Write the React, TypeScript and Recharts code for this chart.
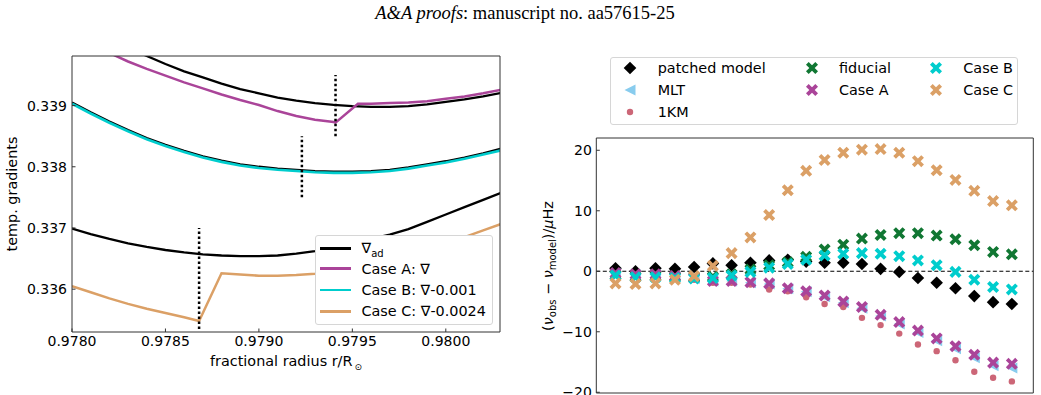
import React from 'react';
import {
  LineChart, Line, ScatterChart, Scatter, XAxis, YAxis, ReferenceLine, Legend, Label,
} from 'recharts';

// left panel: temperature gradients around the patching point
const radiusGrid = [
  0.978, 0.9781, 0.9782, 0.9783, 0.9784, 0.9785, 0.9786, 0.9787, 0.9788, 0.9789, 0.979, 0.9791,
  0.9792, 0.9793, 0.9794, 0.9795, 0.9796, 0.9797, 0.9798, 0.9799, 0.98, 0.9801, 0.9802, 0.9803,
];
const nablaAdA = [
  0.3404, 0.34025, 0.3401, 0.33995, 0.33981, 0.33968, 0.33956, 0.33946, 0.33936, 0.33927, 0.3392, 0.33913,
  0.33908, 0.33904, 0.33901, 0.33899, 0.33898, 0.33898, 0.33899, 0.33902, 0.33906, 0.3391, 0.33915, 0.33921,
];
const nablaAdB = [
  0.33905, 0.33889, 0.33874, 0.3386, 0.33847, 0.33836, 0.33826, 0.33817, 0.3381, 0.33804, 0.338, 0.33797,
  0.33795, 0.33793, 0.33792, 0.33792, 0.33793, 0.33795, 0.33799, 0.33804, 0.33809, 0.33815, 0.33822, 0.3383,
];
const nablaAdC = [
  0.33699, 0.3369, 0.33682, 0.33675, 0.33669, 0.33664, 0.3366, 0.33657, 0.33655, 0.33654, 0.33654, 0.33655,
  0.33658, 0.33662, 0.33667, 0.33674, 0.33682, 0.33689, 0.33698, 0.3371, 0.33722, 0.33734, 0.33746, 0.33758,
];
const caseBGrad = [
  0.33903, 0.33887, 0.33872, 0.33858, 0.33845, 0.33834, 0.33824, 0.33815, 0.33808, 0.33802, 0.33798, 0.33795,
  0.33793, 0.33791, 0.3379, 0.3379, 0.33791, 0.33793, 0.33797, 0.33802, 0.33807, 0.33813, 0.3382, 0.33827,
];
const caseARadius = [
  0.978, 0.9781, 0.9782, 0.9783, 0.9784, 0.9785, 0.9786, 0.9787, 0.9788, 0.9789, 0.979, 0.9791, 0.9792,
  0.9793, 0.9794, 0.97941, 0.97953, 0.9796, 0.9797, 0.9798, 0.9799, 0.98, 0.9801, 0.9802, 0.9803,
];
const caseAGrad = [
  0.34016, 0.34001, 0.33986, 0.33972, 0.3396, 0.33949, 0.33938, 0.33928, 0.33918, 0.33909, 0.33901, 0.33891,
  0.33883, 0.33877, 0.33873, 0.33872, 0.33903, 0.33903, 0.33904, 0.33905, 0.33907, 0.33911, 0.33915, 0.3392, 0.33926,
];
const caseCRadius = [
  0.978, 0.9781, 0.9782, 0.9783, 0.9784, 0.9785, 0.9786, 0.97868, 0.9788, 0.9789, 0.979, 0.9791,
  0.9792, 0.9793, 0.9794, 0.9795, 0.9796, 0.9797, 0.9798, 0.9799, 0.98, 0.9801, 0.9802, 0.9803,
];
const caseCGrad = [
  0.33605, 0.33595, 0.33585, 0.33576, 0.33568, 0.33561, 0.33554, 0.33548, 0.33626, 0.33624, 0.33622, 0.33622,
  0.33623, 0.33625, 0.33628, 0.33632, 0.33637, 0.33643, 0.33651, 0.33662, 0.33674, 0.33685, 0.33696, 0.33707,
];

// dotted markers at the patching radius of each case
const patchRadius = [0.97941, 0.97923, 0.97868];
const patchMarkTop = [0.3395, 0.3385, 0.337];
const patchMarkBottom = [0.3385, 0.3375, 0.33535];

const radiusTicks = [0.978, 0.9785, 0.979, 0.9795, 0.98];
const gradientTicks = [0.336, 0.337, 0.338, 0.339];

const gradientNames = ['∇', 'Case A: ∇', 'Case B: ∇-0.001', 'Case C: ∇-0.0024'];
const gradientSubs = ['ad', '', '', ''];
const gradientColors = ['#000000', '#AA4499', '#00CDCD', '#DBA066'];

// right panel: radial mode frequency differences
const modeFreq = [
  1118.8, 1263.2, 1407.5, 1548.3, 1686.6, 1822.2, 1957.4, 2093.5, 2228.8, 2363.3, 2496.2,
  2629.3, 2764.2, 2899.0, 3033.8, 3168.6, 3303.5, 3438.9, 3574.9, 3710.7, 3846.5, 3982.1,
];
const patchedDiff = [0.5, 0.0, 0.5, 0.4, 0.7, 1.3, 1.0, 1.4, 1.8, 1.9, 1.6, 1.4, 1.4, 1.2, 0.4, -0.1, -1.1, -1.9, -2.8, -4.1, -5.1, -5.4];
const mltDiff = [-0.4, -0.6, -0.6, -0.9, -1.2, -1.6, -1.6, -1.9, -2.1, -2.9, -3.4, -4.2, -5.2, -6.1, -7.4, -8.7, -10.1, -11.5, -12.8, -14.3, -15.6, -16.0];
const kmDiff = [-0.6, -0.9, -0.8, -1.1, -1.4, -1.9, -1.9, -2.2, -3.0, -3.3, -4.3, -5.4, -5.9, -7.7, -8.9, -10.3, -12.1, -13.2, -14.7, -16.6, -17.6, -18.2];
const fiducialDiff = [-0.6, -0.9, -0.8, -0.9, -1.0, -0.9, -0.5, 0.3, 1.0, 1.5, 2.4, 3.6, 4.4, 5.4, 6.0, 6.3, 6.3, 5.9, 5.3, 4.3, 3.2, 2.8];
const caseADiff = [-0.3, -0.5, -0.5, -0.8, -1.1, -1.6, -1.6, -1.8, -2.0, -2.8, -3.3, -4.0, -5.0, -5.9, -7.2, -8.4, -9.8, -11.1, -12.4, -13.8, -15.1, -15.3];
const caseBDiff = [-0.7, -1.0, -1.0, -1.1, -1.2, -1.1, -0.7, -0.1, 0.6, 1.2, 1.9, 2.6, 2.9, 3.0, 2.9, 2.5, 1.8, 1.0, -0.1, -1.4, -2.6, -3.0];
const caseCDiff = [-2.0, -2.1, -2.0, -1.4, -0.8, 0.9, 3.0, 5.6, 9.3, 13.4, 16.6, 18.4, 19.6, 20.1, 20.2, 19.6, 18.2, 16.7, 15.1, 13.3, 11.6, 10.9];

const residualNames = ['patched model', 'MLT', '1KM', 'fiducial', 'Case A', 'Case B', 'Case C'];
const residualColors = ['#000000', '#88CCEE', '#CC6677', '#117733', '#AA4499', '#00CDCD', '#DBA066'];
const residualMarkers = ['diamond', 'triLeft', 'dot', 'cross', 'cross', 'cross', 'cross'];
const residualValues = [patchedDiff, mltDiff, kmDiff, fiducialDiff, caseADiff, caseBDiff, caseCDiff];

const freqTicks = [1000, 1500, 2000, 2500, 3000, 3500, 4000];
const diffTicks = [-20, -10, 0, 10, 20];

const FONT = 'DejaVu Sans';
const AXIS = '#333';

const toLine = (r: number[], g: number[]) => r.map((v, i) => ({ r: v, g: g[i] }));
const toPoints = (f: number[], d: number[]) => f.map((v, i) => ({ f: v, d: d[i] }));

const crossPoints = (cx: number, cy: number, a = 1.9, l = 6.6) => {
  const pts = [[-a, l], [a, l], [a, a], [l, a], [l, -a], [a, -a], [a, -l], [-a, -l], [-a, -a], [-l, -a], [-l, a], [-a, a]];
  const s = Math.SQRT1_2;
  return pts.map(([x, y]) => `${cx + (x - y) * s},${cy + (x + y) * s}`).join(' ');
};

const MarkerShape = ({ kind, cx, cy, color }: { kind: string; cx: number; cy: number; color: string }) => {
  if (kind === 'diamond') {
    const r = 6.3;
    return <polygon points={`${cx},${cy - r} ${cx + r},${cy} ${cx},${cy + r} ${cx - r},${cy}`} fill={color} />;
  }
  if (kind === 'triLeft') {
    const r = 5.5;
    return <polygon points={`${cx - r},${cy} ${cx + r},${cy - r} ${cx + r},${cy + r}`} fill={color} />;
  }
  if (kind === 'dot') return <circle cx={cx} cy={cy} r={3.2} fill={color} />;
  return <polygon points={crossPoints(cx, cy)} fill={color} />;
};

const tickStyle = { fill: '#000', fontSize: 14, fontFamily: FONT };

const RadiusTitle = ({ viewBox }: any) => (
  <text x={viewBox.x + viewBox.width / 2} y={366} textAnchor="middle" fontSize={14.4} fontFamily={FONT} fill="#000">
    fractional radius r/R<tspan dx={2} dy={4} fontSize={9}>⊙</tspan>
  </text>
);

const GradientTitle = () => {
  const x = 16.5;
  const y = 194;
  return (
    <text x={x} y={y} transform={`rotate(-90 ${x} ${y})`} textAnchor="middle" fontSize={14.4} fontFamily={FONT} fill="#000">
      temp. gradients
    </text>
  );
};

const ResidualTitle = () => {
  const x = 553 - 520;
  const y = 266;
  return (
    <text x={x} y={y} transform={`rotate(-90 ${x} ${y})`} textAnchor="middle" fontSize={14.4} fontFamily={FONT} fill="#000">
      (<tspan fontStyle="italic">ν</tspan>
      <tspan fontSize={10} dy={3}>obs</tspan>
      <tspan dy={-3}>{' \u2212 '}</tspan>
      <tspan fontStyle="italic">ν</tspan>
      <tspan fontSize={10} dy={3}>model</tspan>
      <tspan dy={-3}>)/</tspan>
      <tspan fontStyle="italic">μ</tspan>Hz
    </text>
  );
};

const GradientLegend = () => (
  <div style={{ position: 'relative', width: 178, height: 90, background: '#fff', border: '1px solid #d6d6d6', borderRadius: 3, boxSizing: 'border-box', fontFamily: FONT, fontSize: 14.4, color: '#000' }}>
    {gradientNames.map((name, i) => (
      <div key={name} style={{ position: 'absolute', left: 0, top: [12.3, 32.7, 54, 75.3][i] - 9, height: 18, lineHeight: '18px', whiteSpace: 'nowrap' }}>
        <span style={{ position: 'absolute', left: 3.5, top: 7.8, width: 31, height: 2.6, background: gradientColors[i] }} />
        <span style={{ position: 'absolute', left: 45.5 }}>
          {name}
          {gradientSubs[i] && <span style={{ fontSize: 10, position: 'relative', top: 4 }}>{gradientSubs[i]}</span>}
        </span>
      </div>
    ))}
  </div>
);

const ResidualLegend = () => {
  const colOf = [0, 0, 0, 1, 1, 2, 2];
  const rowOf = [0, 1, 2, 0, 1, 0, 1];
  const markerX = [19, 200.7, 325];
  const textX = [46.7, 228, 352.3];
  const rowY = [10.3, 32.6, 54.3];
  return (
    <div style={{ position: 'relative', width: 408, height: 68, background: '#fff', border: '1px solid #d6d6d6', borderRadius: 3, boxSizing: 'border-box', fontFamily: FONT, fontSize: 14.4, color: '#000' }}>
      {residualNames.map((name, i) => (
        <div key={name}>
          <svg width={16} height={16} style={{ position: 'absolute', left: markerX[colOf[i]] - 8, top: rowY[rowOf[i]] - 8 }}>
            <MarkerShape kind={residualMarkers[i]} cx={8} cy={8} color={residualColors[i]} />
          </svg>
          <span style={{ position: 'absolute', left: textX[colOf[i]], top: rowY[rowOf[i]] - 9, lineHeight: '18px', whiteSpace: 'nowrap' }}>{name}</span>
        </div>
      ))}
    </div>
  );
};

const GradientPanel = () => (
  <LineChart width={520} height={395} margin={{ top: 55, right: 19, bottom: 62, left: 71 }}>
    <XAxis type="number" dataKey="r" domain={[0.978, 0.98029]} allowDataOverflow ticks={radiusTicks} interval={0}
      tickFormatter={(v: number) => v.toFixed(4)} height={1} tickSize={-3.5} tickMargin={7.5} stroke={AXIS} tick={tickStyle}>
      <Label content={RadiusTitle} />
    </XAxis>
    <XAxis xAxisId="top" orientation="top" type="number" domain={[0.978, 0.98029]} allowDataOverflow ticks={radiusTicks} interval={0}
      height={1} tickSize={-3.5} stroke={AXIS} tick={false} />
    <YAxis type="number" domain={[0.3353, 0.33981]} allowDataOverflow ticks={gradientTicks} interval={0}
      tickFormatter={(v: number) => v.toFixed(3)} width={1} tickSize={-3.5} tickMargin={8.5} stroke={AXIS} tick={tickStyle}>
      <Label content={GradientTitle} />
    </YAxis>
    <YAxis yAxisId="right" orientation="right" type="number" domain={[0.3353, 0.33981]} allowDataOverflow ticks={gradientTicks} interval={0}
      width={1} tickSize={-3.5} stroke={AXIS} tick={false} />
    <Line data={toLine(radiusGrid, nablaAdA)} dataKey="g" stroke="#000" strokeWidth={2.3} dot={false} isAnimationActive={false} />
    <Line data={toLine(radiusGrid, nablaAdB)} dataKey="g" stroke="#000" strokeWidth={2.3} dot={false} isAnimationActive={false} />
    <Line data={toLine(radiusGrid, nablaAdC)} dataKey="g" stroke="#000" strokeWidth={2.3} dot={false} isAnimationActive={false} />
    <Line data={toLine(caseARadius, caseAGrad)} dataKey="g" stroke={gradientColors[1]} strokeWidth={2.5} dot={false} isAnimationActive={false} />
    <Line data={toLine(radiusGrid, caseBGrad)} dataKey="g" stroke={gradientColors[2]} strokeWidth={2.6} dot={false} isAnimationActive={false} />
    <Line data={toLine(caseCRadius, caseCGrad)} dataKey="g" stroke={gradientColors[3]} strokeWidth={2.5} dot={false} isAnimationActive={false} />
    {patchRadius.map((r, i) => (
      <ReferenceLine key={r} segment={[{ x: r, y: patchMarkBottom[i] }, { x: r, y: patchMarkTop[i] }]}
        stroke="#000" strokeWidth={2.5} strokeDasharray="2.5 2.5" ifOverflow="hidden" />
    ))}
    <Legend layout="horizontal" verticalAlign="middle" align="center" content={() => <GradientLegend />}
      wrapperStyle={{ position: 'absolute', left: 315, top: 235, width: 178, height: 90 }} />
  </LineChart>
);

const ResidualPanel = () => (
  <ScatterChart width={521} height={395} margin={{ top: 137, right: 6.7, bottom: 1, left: 75.3 }}>
    <XAxis type="number" dataKey="f" domain={[980, 4137]} allowDataOverflow ticks={freqTicks} interval={0}
      height={1} tickSize={-3.5} stroke={AXIS} tick={false} />
    <XAxis xAxisId="top" orientation="top" type="number" domain={[980, 4137]} allowDataOverflow ticks={freqTicks} interval={0}
      height={1} tickSize={-3.5} stroke={AXIS} tick={false} />
    <YAxis type="number" dataKey="d" domain={[-20.12, 22.03]} allowDataOverflow ticks={diffTicks} interval={0}
      tickFormatter={(v: number) => (v < 0 ? `\u2212${Math.abs(v)}` : `${v}`)} width={1} tickSize={-3.5} tickMargin={8}
      stroke={AXIS} tick={tickStyle}>
      <Label content={ResidualTitle} />
    </YAxis>
    <YAxis yAxisId="right" orientation="right" type="number" domain={[-20.12, 22.03]} allowDataOverflow ticks={diffTicks} interval={0}
      width={1} tickSize={-3.5} stroke={AXIS} tick={false} />
    <ReferenceLine y={0} stroke="#000" strokeWidth={1.1} strokeDasharray="4 2.5" />
    {residualNames.map((name, i) => (
      <Scatter key={name} name={name} data={toPoints(modeFreq, residualValues[i])} isAnimationActive={false}
        shape={(p: any) => <MarkerShape kind={residualMarkers[i]} cx={p.cx} cy={p.cy} color={residualColors[i]} />} />
    ))}
    <Legend layout="horizontal" verticalAlign="middle" align="center" content={() => <ResidualLegend />}
      wrapperStyle={{ position: 'absolute', left: 90, top: 56.7, width: 408, height: 68 }} />
  </ScatterChart>
);

export default function App() {
  return (
    <div style={{ position: 'absolute', left: 0, top: 0, width: 1041, height: 395, background: '#fff', overflow: 'hidden' }}>
      <div style={{ position: 'absolute', left: 0, top: 2.5, width: 1050, textAlign: 'center', fontFamily: '"Liberation Serif", serif', fontSize: 18.5, lineHeight: '20px', color: '#000' }}>
        <i>A&amp;A proofs</i>: manuscript no. aa57615-25
      </div>
      <div style={{ position: 'absolute', left: 0, top: 0 }}>
        <GradientPanel />
      </div>
      <div style={{ position: 'absolute', left: 520, top: 0 }}>
        <ResidualPanel />
      </div>
    </div>
  );
}
